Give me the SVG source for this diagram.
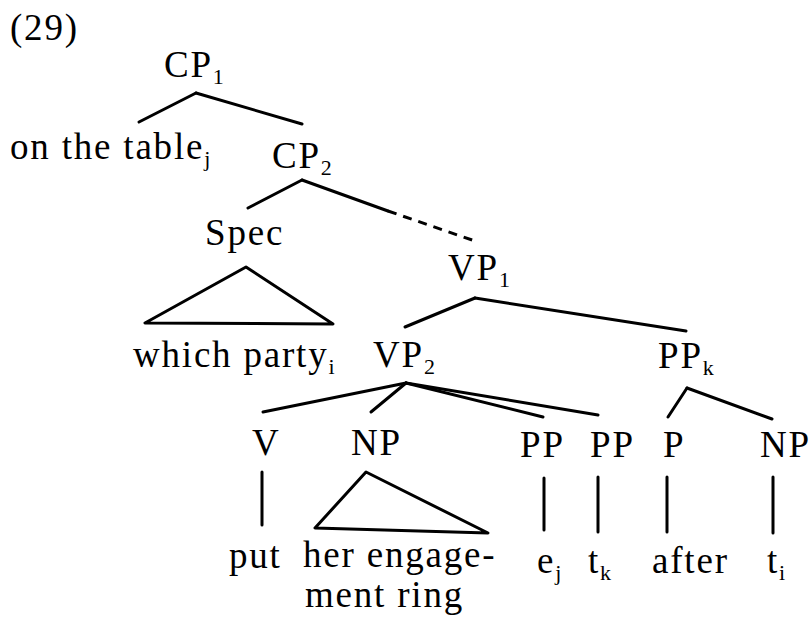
<svg xmlns="http://www.w3.org/2000/svg" width="811" height="621" viewBox="0 0 811 621">
<style>
text{font-family:"Liberation Serif","Times New Roman",serif;font-size:37px;fill:#000;letter-spacing:1.8px}
.s{font-size:22px;letter-spacing:0}
line,polygon{stroke:#000;stroke-width:3;fill:none;stroke-linecap:round;stroke-linejoin:round}
.d{stroke-dasharray:9 7;stroke-linecap:butt}
</style>
<rect width="811" height="621" fill="#fff"/>
<text x="10" y="40">(29)</text>
<g id="connectors">
<line x1="196" y1="93" x2="139" y2="122"/>
<line x1="196" y1="93" x2="302" y2="124"/>
<line x1="302" y1="180" x2="248" y2="208"/>
<line x1="302" y1="180" x2="388" y2="211"/>
<line class="d" x1="388" y1="211" x2="475" y2="241"/>
<line x1="475" y1="298" x2="405" y2="327"/>
<line x1="475" y1="298" x2="686" y2="331"/>
<line x1="406" y1="383" x2="263" y2="412"/>
<line x1="406" y1="383" x2="371" y2="412"/>
<line x1="406" y1="383" x2="543" y2="417"/>
<line x1="406" y1="383" x2="598" y2="415"/>
<line x1="687" y1="388" x2="668" y2="417"/>
<line x1="687" y1="388" x2="772" y2="419"/>
<line x1="262" y1="472" x2="262" y2="525"/>
<line x1="544" y1="478" x2="544" y2="530"/>
<line x1="598" y1="477" x2="598" y2="532"/>
<line x1="667" y1="477" x2="667" y2="532"/>
<line x1="773" y1="477" x2="773" y2="533"/>
<polygon points="246,267 145,323 333,324"/>
<polygon points="366,472 315,528 488,533"/>
</g>
<g id="CP1"><text x="164" y="77">CP<tspan class="s" dy="7">1</tspan></text></g>
<g id="table"><text x="10" y="159">on the table<tspan class="s" dy="7">j</tspan></text></g>
<g id="CP2"><text x="272" y="168">CP<tspan class="s" dy="7">2</tspan></text></g>
<g id="Spec"><text x="205" y="245">Spec</text></g>
<g id="party"><text x="133" y="367">which party<tspan class="s" dy="7">i</tspan></text></g>
<g id="VP1"><text x="448" y="280">VP<tspan class="s" dy="7">1</tspan></text></g>
<g id="VP2"><text x="373" y="367">VP<tspan class="s" dy="7">2</tspan></text></g>
<g id="PPk"><text x="658" y="368">PP<tspan class="s" dy="7">k</tspan></text></g>
<g id="V"><text x="252" y="455">V</text></g>
<g id="NP1"><text x="351" y="455">NP</text></g>
<g id="PP1"><text x="520" y="457">PP</text></g>
<g id="PP2"><text x="590" y="457">PP</text></g>
<g id="P"><text x="663" y="457">P</text></g>
<g id="NP2"><text x="760" y="457">NP</text></g>
<g id="put"><text x="229" y="568">put</text></g>
<g id="ring"><text x="303" y="567">her engage-</text><text x="305" y="607">ment ring</text></g>
<g id="ej"><text x="537" y="573">e<tspan class="s" dy="7">j</tspan></text></g>
<g id="tk"><text x="588" y="573">t<tspan class="s" dy="7">k</tspan></text></g>
<g id="after"><text x="652" y="573">after</text></g>
<g id="ti"><text x="767" y="573">t<tspan class="s" dy="7">i</tspan></text></g>
</svg>
